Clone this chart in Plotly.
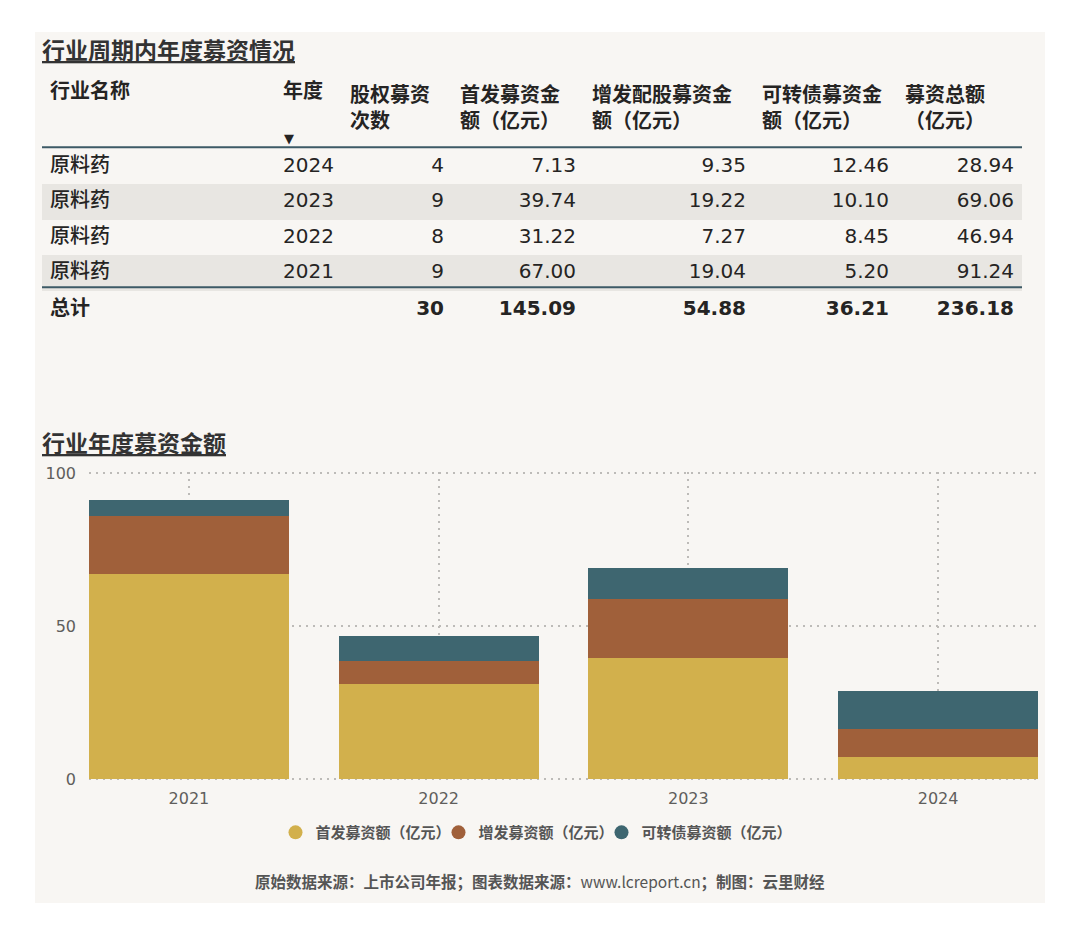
import plotly.graph_objects as go

# ---------------- data ----------------
industry = ["原料药", "原料药", "原料药", "原料药"]
years = ["2024", "2023", "2022", "2021"]
deal_counts = [4, 9, 8, 9]
ipo_amounts = [7.13, 39.74, 31.22, 67.00]
seo_amounts = [9.35, 19.22, 7.27, 19.04]
cb_amounts = [12.46, 10.10, 8.45, 5.20]
total_amounts = [28.94, 69.06, 46.94, 91.24]

table_headers = ["行业名称", "年度", "股权募资<br>次数", "首发募资金<br>额（亿元）",
                 "增发配股募资金<br>额（亿元）", "可转债募资金<br>额（亿元）", "募资总额<br>（亿元）"]
total_label = "总计"

series_names = ["首发募资额（亿元）", "增发募资额（亿元）", "可转债募资额（亿元）"]
y_ticks = [0, 50, 100]

table_title = "行业周期内年度募资情况"
chart_title = "行业年度募资金额"
footer = ("原始数据来源：上市公司年报；图表数据来源：<span style='font-weight:normal'>www.lcreport.cn</span>"
          "；制图：云里财经")

# ---------------- style ----------------
W, H = 1080, 935
PANEL = "#f8f6f3"
STRIPE = "#e8e6e2"
TXT = "#252423"
GRAY = "#605e5c"
GRID = "#bdbbb8"
RULE = "#3d5a66"
COLORS = ["#d2b04c", "#a0603a", "#3e6670"]
F_NUM = "DejaVu Sans, Noto Sans CJK SC, sans-serif"
F_CJK = "Noto Sans CJK SC, sans-serif"
COL_W = [233, 67, 110, 132, 170, 143, 125]
BODY_ALIGN = ["left", "left", "right", "right", "right", "right", "right"]

# screen placement calibration (vertical)
T_OFF, S_Y = 11.2, 0.976


def fx(p):
    return p / W


def fy(screen_y):
    p = (screen_y - T_OFF) / S_Y
    return 1 - p / H


def hpx(screen_h):
    return screen_h / S_Y


fig = go.Figure()

# ---------------- table (header + yearly rows) ----------------
row_fill = [PANEL if i % 2 == 0 else STRIPE for i in range(len(years))]
col_vals = [
    industry,
    years,
    [str(v) for v in deal_counts],
    [f"{v:.2f}" for v in ipo_amounts],
    [f"{v:.2f}" for v in seo_amounts],
    [f"{v:.2f}" for v in cb_amounts],
    [f"{v:.2f}" for v in total_amounts],
]
fig.add_trace(go.Table(
    domain=dict(x=[fx(42), fx(1022)], y=[fy(293), fy(77.7)]),
    columnwidth=COL_W,
    header=dict(
        values=table_headers,
        align="left",
        fill_color=PANEL,
        line=dict(color=PANEL, width=0),
        font=dict(family=F_NUM, size=20, color=TXT, weight=700),
        height=hpx(149.5 - 77.7),
    ),
    cells=dict(
        values=col_vals,
        align=BODY_ALIGN,
        fill_color=[row_fill] * 7,
        line=dict(color=[row_fill] * 7, width=0),
        font=dict(family=F_NUM, size=20, color=TXT, weight=500),
        height=hpx(34.7),
    ),
))

# ---------------- total row (bold) ----------------
total_row = [
    total_label, "", str(sum(deal_counts)), f"{sum(ipo_amounts):.2f}", f"{sum(seo_amounts):.2f}",
    f"{sum(cb_amounts):.2f}", f"{sum(total_amounts):.2f}",
]
fig.add_trace(go.Table(
    domain=dict(x=[fx(42), fx(1022)], y=[fy(345), fy(293.5)]),
    columnwidth=COL_W,
    header=dict(
        values=total_row,
        align=BODY_ALIGN,
        fill_color=PANEL,
        line=dict(color=PANEL, width=0),
        font=dict(family=F_NUM, size=20, color=TXT, weight=700),
        height=hpx(34.7),
    ),
    cells=dict(values=[]),
))

# ---------------- stacked bars ----------------
chart_years = years[::-1]
series_vals = [ipo_amounts[::-1], seo_amounts[::-1], cb_amounts[::-1]]
for name, vals, col in zip(series_names, series_vals, COLORS):
    fig.add_trace(go.Bar(x=chart_years, y=vals, name=name, marker=dict(color=col, line=dict(width=0)),
                         showlegend=False, hoverinfo="skip"))
legend_widths = [118, 118, 142]
for name, col, lw in zip(series_names, COLORS, legend_widths):
    fig.add_trace(go.Scatter(x=[None], y=[None], mode="markers", name=name, legendwidth=lw,
                             marker=dict(color=col, size=14, symbol="circle"), showlegend=True))

# ---------------- layout ----------------
shapes = [
    dict(type="rect", xref="paper", yref="paper", x0=fx(35), x1=fx(1045), y0=fy(900), y1=fy(35),
         fillcolor=PANEL, line=dict(width=0), layer="below"),
    dict(type="line", xref="paper", yref="paper", x0=fx(42), x1=fx(1022), y0=fy(149.5), y1=fy(149.5),
         line=dict(color=RULE, width=2), layer="above"),
    dict(type="line", xref="paper", yref="paper", x0=fx(42), x1=fx(1022), y0=fy(288.5), y1=fy(288.5),
         line=dict(color=RULE, width=2), layer="above"),
]

annotations = [
    dict(text=table_title, x=fx(40), y=fy(52), xref="paper", yref="paper", xanchor="left", yanchor="middle",
         showarrow=False, font=dict(family=F_CJK, size=23, color="#333333", weight="bold", lineposition="under")),
    dict(text=chart_title, x=fx(40), y=fy(442), xref="paper", yref="paper", xanchor="left", yanchor="middle",
         showarrow=False, font=dict(family=F_CJK, size=23, color="#333333", weight="bold", lineposition="under")),
    dict(text="▼", x=fx(289), y=fy(141), xref="paper", yref="paper", xanchor="center", yanchor="middle",
         showarrow=False, font=dict(family=F_NUM, size=13, color=TXT)),
    dict(text=footer, x=fx(540), y=fy(878), xref="paper", yref="paper", xanchor="center", yanchor="middle",
         showarrow=False, font=dict(family=F_CJK, size=15.5, color="#555555", weight="bold")),
]

# y range padded slightly so the 0 and 100 gridlines are drawn
Y_PAD = 0.4
px_per_unit = (777 - 473) / 100.0

fig.update_layout(
    width=W, height=H,
    margin=dict(l=0, r=0, t=0, b=0),
    paper_bgcolor="white",
    plot_bgcolor="rgba(0,0,0,0)",
    barmode="stack",
    bargap=0.2,
    hovermode=False,
    shapes=shapes,
    annotations=annotations,
    xaxis=dict(domain=[fx(89), fx(1038)], type="category", range=[-0.4, 3.4],
               showgrid=True, gridcolor=GRID, griddash="2px,5px", gridwidth=1.5,
               zeroline=False, showline=False, ticks="", ticklabelstandoff=7,
               tickfont=dict(family=F_NUM, size=16, color=GRAY), fixedrange=True),
    yaxis=dict(domain=[fy(777 + Y_PAD * px_per_unit), fy(473 - Y_PAD * px_per_unit)],
               range=[-Y_PAD, 100 + Y_PAD], tickvals=y_ticks,
               showgrid=True, gridcolor=GRID, griddash="2px,5px", gridwidth=1.5,
               zeroline=False, showline=False, ticks="", ticklabelstandoff=12,
               tickfont=dict(family=F_NUM, size=16, color=GRAY), fixedrange=True),
    legend=dict(orientation="h", x=fx(532), xanchor="center", y=fy(830), yanchor="middle",
                traceorder="normal", bgcolor="rgba(0,0,0,0)",
                font=dict(family=F_CJK, size=15, color="#555555", weight="bold")),
)

fig.write_html("out.html", config={"displayModeBar": False},
               post_script="document.body.style.margin='0';")
